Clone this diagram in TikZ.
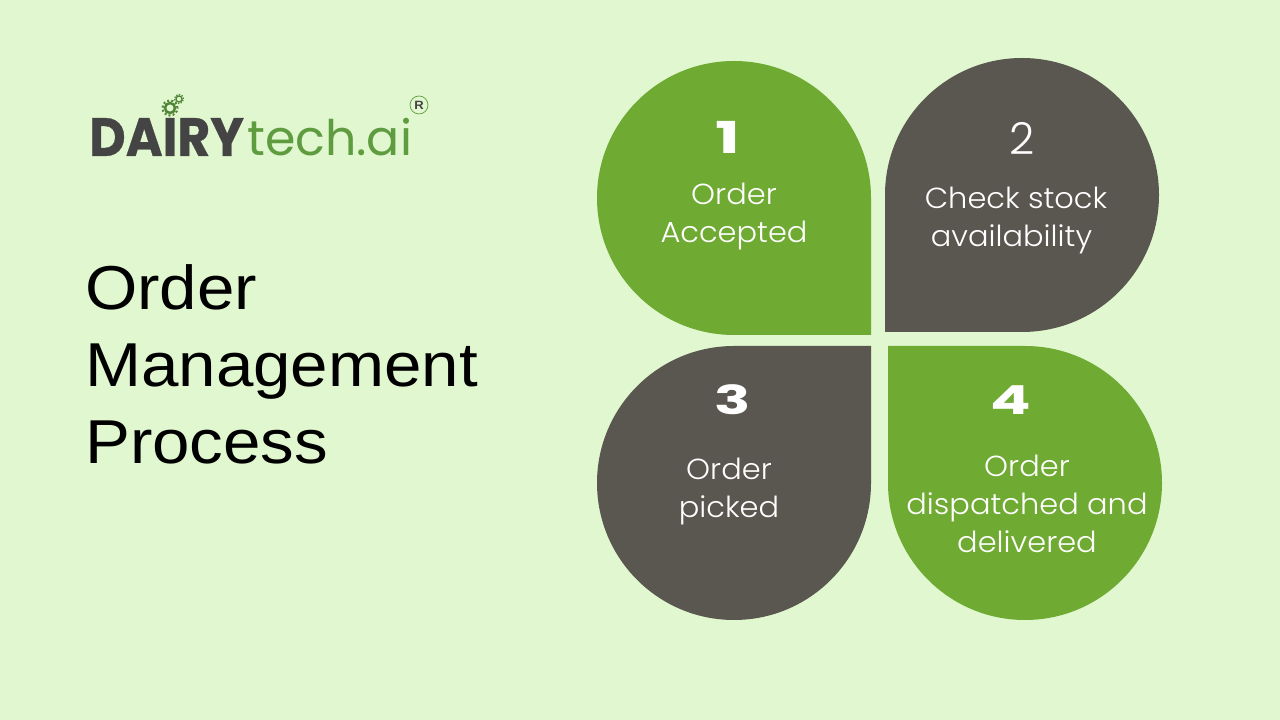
\documentclass[tikz,border=0pt]{standalone}
\usepackage{fontspec}
\setmainfont[FakeStretch=1.085]{Liberation Sans}
\newfontfamily\petalfont[UprightFont=* Light,FakeStretch=1.05]{Poppins}
\newfontfamily\numfont[UprightFont=* Bold,FakeStretch=1.5]{Poppins}
\newfontfamily\twofont[UprightFont=* Light]{Poppins}
\newfontfamily\logofont[UprightFont=* Bold,FakeStretch=.93,FakeBold=.6]{Poppins}
\newfontfamily\techfont{Poppins}
\definecolor{paper}{HTML}{E0F7CF}
\definecolor{leafgreen}{HTML}{6FAA33}
\definecolor{leafgrey}{HTML}{5A5650}
\definecolor{logodark}{HTML}{444444}
\definecolor{logogreen}{HTML}{5F9B3F}
\tikzset{
  greenleaf/.style={fill=leafgreen},
  greyleaf/.style={fill=leafgrey},
  numlabel/.style={text=white,font=\numfont\fontsize{40}{40}\selectfont,inner sep=0pt},
  leaflabel/.style={text=white,align=center,inner sep=0pt,font=\petalfont\fontsize{29}{38}\selectfont},
  cog/.style={draw=logogreen!85!black,circle,inner sep=0pt}
}
\begin{document}
\begin{tikzpicture}[x=1pt,y=1pt]
\useasboundingbox [fill=paper] (0,0) rectangle (1280,720);

\path [greenleaf] (871,385) -- (734,385) arc [start angle=270,end angle=0,radius=137] -- cycle;
\path [greyleaf] (885,388) -- (885,525) arc [start angle=180,end angle=-90,radius=137] -- cycle;
\path [greyleaf] (871,374) -- (871,237) arc [start angle=0,end angle=-270,radius=137] -- cycle;
\path [greenleaf] (888,374) -- (1025,374) arc [start angle=90,end angle=-180,radius=137] -- cycle;

\node [numlabel,font=\numfont\fontsize{44}{44}\selectfont] (num1) at (728,583) {1};
\node [numlabel,font=\twofont\fontsize{44}{44}\selectfont] (num2) at (1022,582) {2};
\node [numlabel] (num3) at (733,320) {3};
\node [numlabel] (num4) at (1011,320) {4};

\node [leaflabel] (leaf1) at (734,503) {Order\\Accepted};
\node [leaflabel] (leaf2) at (1016,499) {Check stock\\availability\hspace*{9pt}};
\node [leaflabel] (leaf3) at (729,228) {Order\\picked};
\node [leaflabel] (leaf4) at (1027,216) {Order\\dispatched and\\delivered};

\node [anchor=west,align=left,inner sep=0pt,font=\fontsize{62}{77}\selectfont] (title) at (85,356) {Order\\Management\\Process};

\node [anchor=base west,inner sep=0pt,text=logodark,font=\logofont\fontsize{54}{54}\selectfont] (dairy) at (89,564) {DAIRY};
\node [anchor=base west,inner sep=0pt,xshift=3pt,text=logogreen,font=\techfont\fontsize{49}{49}\selectfont] (tech) at (dairy.base east) {tech.ai};

\node [cog,line width=2.5pt,minimum size=10pt] (cogbig) at (170,612) {};
\node [cog,line width=2pt,minimum size=15pt,dash pattern=on 2pt off 2.2pt] (cogbigteeth) at (cogbig) {};
\node [cog,line width=1.3pt,minimum size=6pt] (cogsmall) at (179,621) {};
\node [cog,line width=1.3pt,minimum size=9pt,dash pattern=on 1.4pt off 1.4pt] (cogsmallteeth) at (cogsmall) {};
\node [circle,draw=logogreen,line width=.7pt,minimum size=18pt,inner sep=0pt,text=logodark,font=\bfseries\fontsize{12}{12}\selectfont] (reg) at (419,615) {R};
\end{tikzpicture}
\end{document}
